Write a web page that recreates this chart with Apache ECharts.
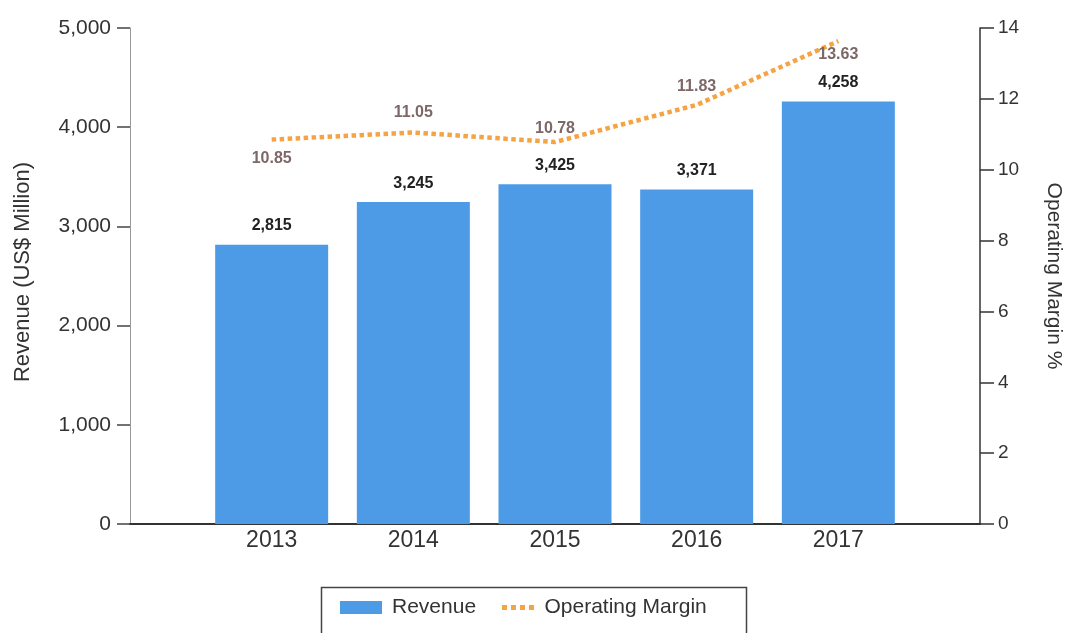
<!DOCTYPE html>
<html>
<head>
<meta charset="utf-8">
<script src="https://cdn.jsdelivr.net/npm/echarts@6/dist/echarts.min.js"></script>
<style>html,body{margin:0;padding:0;background:#fff}#c{width:1067px;height:633px}</style>
</head>
<body>
<div id="c"></div>
<script>
const categories = ['2013', '2014', '2015', '2016', '2017'];
const revenue = [2815, 3245, 3425, 3371, 4258];
const operatingMargin = [10.85, 11.05, 10.78, 11.83, 13.63];
const revenueTicks = [0, 1000, 2000, 3000, 4000, 5000];
const marginTicks = [0, 2, 4, 6, 8, 10, 12, 14];

const marginLabelPos = ['bottom', 'top', 'top', 'top', 'bottom'];
const marginLabelDist = [11, 12, 5, 10, 5];

const FONT = 'Liberation Sans';
const xData = [''].concat(categories, ['']);
const barData = [null].concat(revenue, [null]);
const lineData = [null].concat(operatingMargin.map((v, i) => ({
  value: v,
  label: { position: marginLabelPos[i], distance: marginLabelDist[i] }
})), [null]);

const chart = echarts.init(document.getElementById('c'), null, { renderer: 'canvas' });
chart.setOption({
  animation: false,
  textStyle: { fontFamily: FONT },
  grid: { left: 130, right: 87, top: 28, bottom: 109, containLabel: false, outerBoundsMode: 'none' },
  xAxis: {
    type: 'category',
    data: xData,
    boundaryGap: false,
    axisLine: { lineStyle: { color: '#333', width: 2 } },
    axisTick: { show: false },
    axisLabel: { color: '#333', fontSize: 23, margin: 5, fontFamily: FONT },
    splitLine: { show: false }
  },
  yAxis: [{
    type: 'value',
    min: revenueTicks[0],
    max: revenueTicks[revenueTicks.length - 1],
    interval: revenueTicks[1] - revenueTicks[0],
    name: 'Revenue (US$ Million)',
    nameLocation: 'middle',
    nameGap: 96,
    nameRotate: 90,
    nameTextStyle: { color: '#333', fontSize: 22, fontFamily: FONT, padding: [0, 0, 0, 8] },
    axisLine: { show: true, lineStyle: { color: '#999', width: 1 } },
    axisTick: { show: true, length: 13, lineStyle: { color: '#444', width: 1.5 } },
    axisLabel: {
      color: '#333', fontSize: 21, margin: 19, fontFamily: FONT,
      formatter: v => v.toLocaleString('en-US')
    },
    splitLine: { show: false }
  }, {
    type: 'value',
    min: marginTicks[0],
    max: marginTicks[marginTicks.length - 1],
    interval: marginTicks[1] - marginTicks[0],
    position: 'right',
    name: 'Operating Margin %',
    nameLocation: 'middle',
    nameGap: 63,
    nameRotate: -90,
    nameTextStyle: { color: '#333', fontSize: 21, fontFamily: FONT },
    axisLine: { show: true, lineStyle: { color: '#333', width: 1.5 } },
    axisTick: { show: true, length: 14, lineStyle: { color: '#333', width: 1.5 } },
    axisLabel: { color: '#333', fontSize: 19, margin: 18, fontFamily: FONT },
    splitLine: { show: false }
  }],
  legend: [{
    data: ['Revenue'],
    left: 335, top: 592,
    itemWidth: 42, itemHeight: 13, itemGap: 10,
    icon: 'rect',
    textStyle: { color: '#333', fontSize: 21, fontFamily: FONT, padding: [0, 0, 0, 5] }
  }, {
    data: [{
      name: 'Operating Margin',
      icon: 'path://M0,0h5v5h-5zM9,0h5v5h-5zM18,0h5v5h-5zM27,0h5v5h-5z'
    }],
    left: 497, top: 592,
    itemWidth: 33, itemHeight: 5,
    textStyle: { color: '#333', fontSize: 21, fontFamily: FONT, padding: [0, 0, 0, 5] }
  }],
  graphic: [{
    type: 'rect',
    shape: { x: 321.5, y: 587.5, width: 425, height: 60 },
    style: { fill: 'none', stroke: '#444', lineWidth: 1.5 },
    silent: true
  }],
  series: [{
    name: 'Revenue',
    type: 'bar',
    data: barData,
    barWidth: 113,
    yAxisIndex: 0,
    itemStyle: { color: '#4d9be6' },
    label: {
      show: true, position: 'top', distance: 11,
      color: '#222', fontSize: 16, fontWeight: 'bold', fontFamily: FONT,
      formatter: p => p.value.toLocaleString('en-US')
    }
  }, {
    name: 'Operating Margin',
    type: 'line',
    data: lineData,
    yAxisIndex: 1,
    showSymbol: true,
    symbol: 'circle',
    symbolSize: 0,
    connectNulls: false,
    itemStyle: { color: '#f5a343' },
    lineStyle: { color: '#f5a343', width: 4.5, type: [4.5, 3.5] },
    label: {
      show: true,
      color: '#7d6868', fontSize: 16, fontWeight: 'bold', fontFamily: FONT,
      formatter: p => p.value.toFixed(2)
    },
    z: 3
  }]
});
</script>
</body>
</html>
